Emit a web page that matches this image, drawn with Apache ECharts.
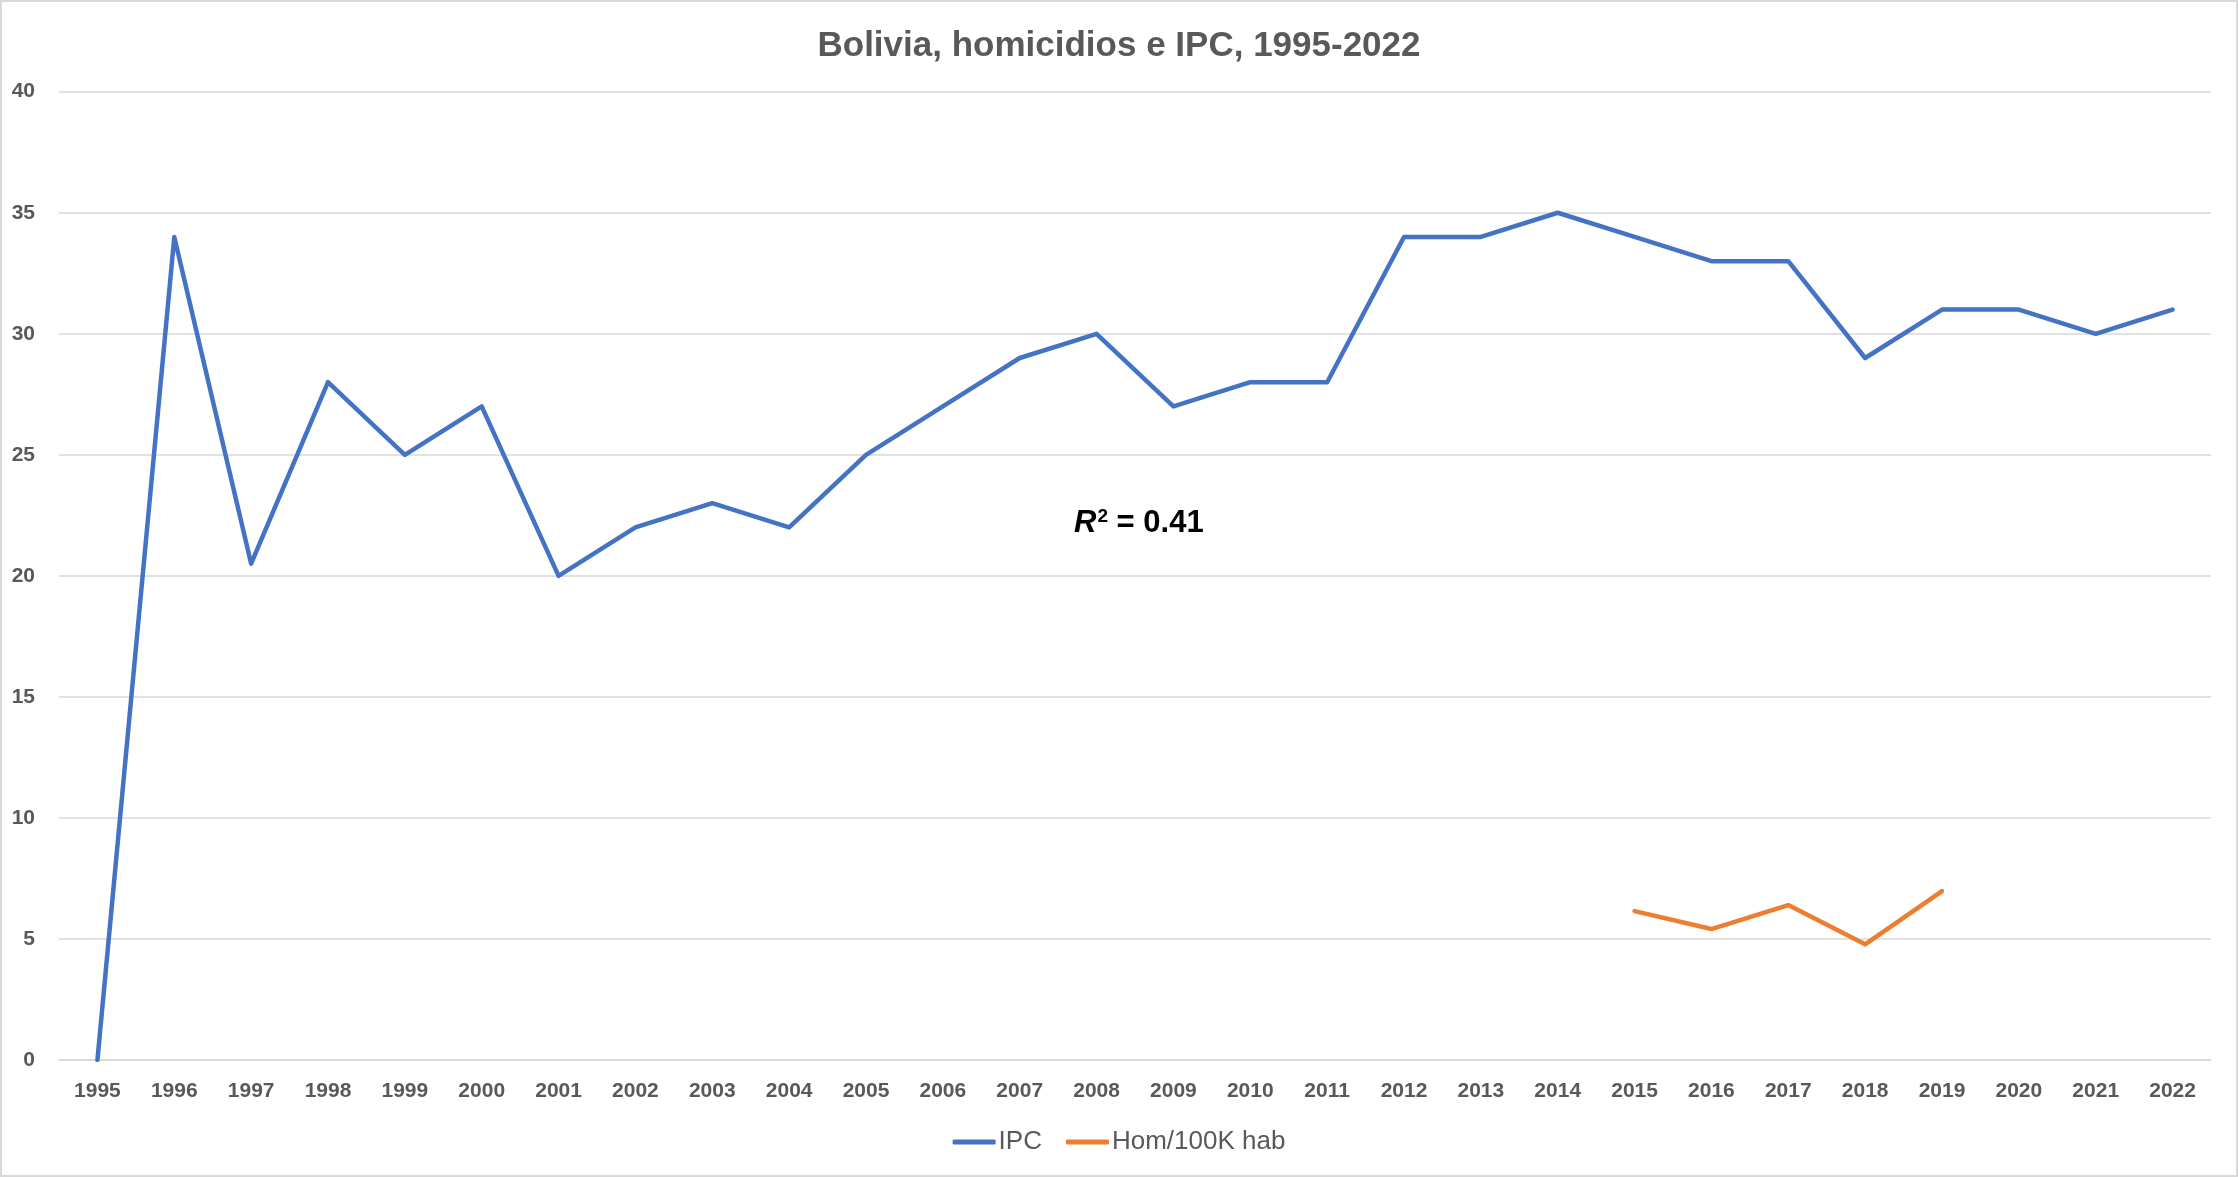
<!DOCTYPE html>
<html>
<head>
<meta charset="utf-8">
<script src="https://cdn.jsdelivr.net/npm/echarts@6/dist/echarts.min.js"></script>
<style>
  html, body { margin: 0; padding: 0; background: #fff; }
  #wrap { position: relative; width: 2238px; height: 1177px; }
  #chart { width: 2238px; height: 1177px; }
  #frame { position: absolute; left: 0; top: 0; width: 2238px; height: 1177px; box-sizing: border-box; border: 2px solid #d9d9d9; pointer-events: none; }
</style>
</head>
<body>
<div id="wrap"><div id="chart"></div><div id="frame"></div></div>
<script>
const years = ['1995','1996','1997','1998','1999','2000','2001','2002','2003','2004','2005','2006','2007','2008','2009','2010','2011','2012','2013','2014','2015','2016','2017','2018','2019','2020','2021','2022'];
const ipc = [0, 34, 20.5, 28, 25, 27, 20, 22, 23, 22, 25, 27, 29, 30, 27, 28, 28, 34, 34, 35, 34, 33, 33, 29, 31, 31, 30, 31];
const homicidios = [null, null, null, null, null, null, null, null, null, null, null, null, null, null, null, null, null, null, null, null, 6.15, 5.41, 6.40, 4.78, 6.98, null, null, null];
const yTicks = { min: 0, max: 40, interval: 5 };
const titleText = 'Bolivia, homicidios e IPC, 1995-2022';
const seriesNames = ['IPC', 'Hom/100K hab'];

const FONT = '"Liberation Sans Narrow", "Arial Narrow", "Liberation Sans", Arial, sans-serif';
const chart = echarts.init(document.getElementById('chart'), null, { renderer: 'canvas' });
chart.setOption({
  backgroundColor: '#ffffff',
  animation: false,
  title: {
    text: titleText,
    left: 'center',
    top: 24,
    textStyle: { fontFamily: FONT, fontSize: 35, fontWeight: 'bold', color: '#595959' }
  },
  legend: {
    data: seriesNames,
    bottom: 17,
    left: 'center',
    icon: 'roundRect',
    itemWidth: 43,
    itemHeight: 5,
    itemGap: 24,
    textStyle: { fontFamily: FONT, fontSize: 26, color: '#595959', padding: [0, 0, 0, -2] }
  },
  grid: { left: 59, right: 27, top: 91.7, bottom: 117, containLabel: false },
  xAxis: {
    type: 'category',
    data: years,
    boundaryGap: true,
    axisTick: { show: false },
    axisLine: { show: true, lineStyle: { color: '#d9d9d9', width: 1.5 } },
    axisLabel: { interval: 0, margin: 21, fontFamily: FONT, fontSize: 21, fontWeight: 'bold', color: '#595959' }
  },
  yAxis: {
    type: 'value',
    min: yTicks.min,
    max: yTicks.max,
    interval: yTicks.interval,
    axisLine: { show: false },
    axisTick: { show: false },
    splitLine: { lineStyle: { color: '#d9d9d9', width: 1.5 } },
    axisLabel: { margin: 24, fontFamily: FONT, fontSize: 21, fontWeight: 'bold', color: '#595959' }
  },
  series: [
    {
      name: seriesNames[0], type: 'line', data: ipc, symbol: 'none',
      lineStyle: { color: '#4472c4', width: 4.5, cap: 'round', join: 'round' },
      itemStyle: { color: '#4472c4' }
    },
    {
      name: seriesNames[1], type: 'line', data: homicidios, symbol: 'none', connectNulls: false,
      lineStyle: { color: '#ed7d31', width: 4.5, cap: 'round', join: 'round' },
      itemStyle: { color: '#ed7d31' }
    }
  ],
  graphic: [{
    type: 'text',
    left: 1074,
    top: 507,
    style: {
      text: '{i|R}{s|2}{n| = 0.41}',
      rich: {
        i: { fontFamily: FONT, fontSize: 31, fontWeight: 'bold', fontStyle: 'italic', fill: '#000' },
        s: { fontFamily: FONT, fontSize: 19, fontWeight: 'bold', fill: '#000', verticalAlign: 'top', padding: [0, 0, 13, 1] },
        n: { fontFamily: FONT, fontSize: 31, fontWeight: 'bold', fill: '#000' }
      }
    }
  }]
});
</script>
</body>
</html>
